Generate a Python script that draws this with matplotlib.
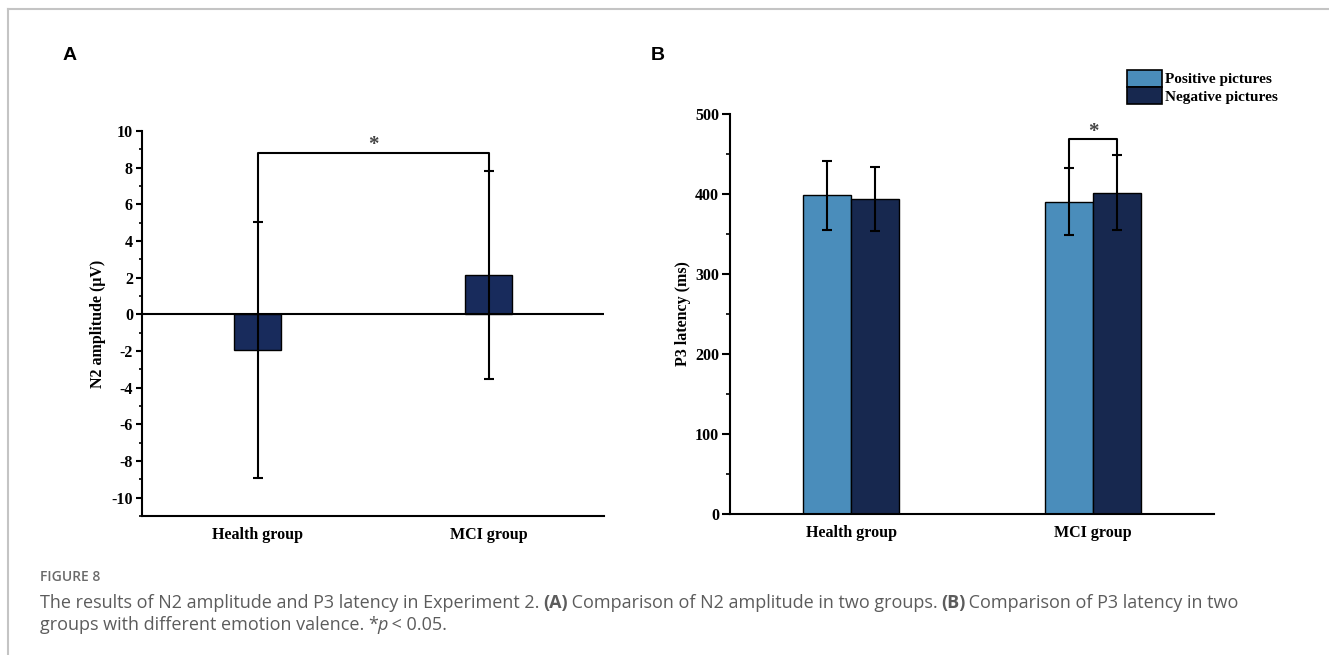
import matplotlib
matplotlib.use("Agg")
import matplotlib.pyplot as plt
from matplotlib.patches import Patch
from matplotlib.ticker import MultipleLocator
from matplotlib.lines import Line2D

plt.rcParams["axes.unicode_minus"] = False

# N2 amplitude (uV), mean and error
groups = ["Health group", "MCI group"]
n2_mean = [-1.93, 2.15]
n2_err = [6.97, 5.67]

# P3 latency (ms) by picture valence
p3_pos_mean = [398, 390]
p3_pos_err = [43, 42]
p3_neg_mean = [393, 401]
p3_neg_err = [40, 47]
valence_labels = ["Positive pictures", "Negative pictures"]

LIGHT = "#4a8dbb"
NAVY = "#17284f"
NAVY_A = "#182b5c"
SERIF = "Liberation Serif"

W, H = 1329, 655
fig = plt.figure(figsize=(W / 100, H / 100), dpi=100)


def px_box(left, top, right, bottom):
    return [left / W, 1 - bottom / H, (right - left) / W, (bottom - top) / H]


def style_axes(ax, major, minor, tick_len):
    for s in ("top", "right"):
        ax.spines[s].set_visible(False)
    for s in ("left", "bottom"):
        ax.spines[s].set_linewidth(1.5)
    ax.yaxis.set_major_locator(MultipleLocator(major))
    ax.yaxis.set_minor_locator(MultipleLocator(minor))
    ax.tick_params(axis="y", which="major", length=tick_len, width=1.5, pad=2,
                   labelsize=11.5)
    ax.tick_params(axis="y", which="minor", length=tick_len / 2, width=1.2)
    ax.tick_params(axis="x", length=0, pad=8, labelsize=11.5)
    for lab in ax.get_xticklabels() + ax.get_yticklabels():
        lab.set_fontfamily(SERIF)
        lab.set_fontweight("bold")


err_kw = dict(ecolor="black", elinewidth=1.5, capsize=3.5, capthick=1.5)

# ---- panel A
axA = fig.add_axes(px_box(142, 131, 604, 516))
x = [0, 1]
axA.bar(x, n2_mean, width=0.2, color=NAVY_A, edgecolor="black", linewidth=1,
        yerr=n2_err, error_kw=err_kw, zorder=2)
axA.axhline(0, color="black", lw=1.5, zorder=3)
axA.set_xlim(-0.5, 1.5)
axA.set_ylim(-11, 10)
axA.set_xticks(x)
axA.set_xticklabels(groups)
style_axes(axA, 2, 1, 4.5)
axA.set_ylabel("N2 amplitude (μV)", fontfamily=SERIF, fontweight="bold",
               fontsize=11.5, labelpad=4)

tops = [n2_mean[i] + n2_err[i] for i in range(2)]
yb = 8.8
axA.plot([0, 0, 1, 1], [tops[0], yb, yb, tops[1]], color="black", lw=1.5,
         clip_on=False, zorder=4)
axA.text(0.5, 9.25, "*", ha="center", va="center", fontsize=15,
         fontfamily=SERIF, fontweight="bold", color="#444444")

# ---- panel B
axB = fig.add_axes(px_box(730, 113.5, 1214, 514))
xp = [i - 0.1 for i in x]
xn = [i + 0.1 for i in x]
axB.bar(xp, p3_pos_mean, width=0.2, color=LIGHT, edgecolor="black",
        linewidth=1, yerr=p3_pos_err, error_kw=err_kw, zorder=2)
axB.bar(xn, p3_neg_mean, width=0.2, color=NAVY, edgecolor="black",
        linewidth=1, yerr=p3_neg_err, error_kw=err_kw, zorder=2)
axB.set_xlim(-0.5, 1.5)
axB.set_ylim(0, 500)
axB.set_xticks(x)
axB.set_xticklabels(groups)
style_axes(axB, 100, 50, 6)
axB.set_ylabel("P3 latency (ms)", fontfamily=SERIF, fontweight="bold",
               fontsize=11.5, labelpad=3)

yb = 468.6
axB.plot([xp[1], xp[1], xn[1], xn[1]],
         [p3_pos_mean[1] + p3_pos_err[1], yb, yb, p3_neg_mean[1] + p3_neg_err[1]],
         color="black", lw=1.5, clip_on=False, zorder=4)
axB.text(1, 477, "*", ha="center", va="center", fontsize=15,
         fontfamily=SERIF, fontweight="bold", color="#444444")

handles = [Patch(facecolor=LIGHT, edgecolor="black", linewidth=1.2),
           Patch(facecolor=NAVY, edgecolor="black", linewidth=1.2)]
fig.legend(handles, valence_labels, loc="upper left",
           bbox_to_anchor=(1127 / W, 1 - 70 / H), frameon=False,
           borderpad=0, borderaxespad=0, labelspacing=0.05,
           handlelength=2.3, handleheight=1.3, handletextpad=0.2,
           prop={"family": SERIF, "weight": "bold", "size": 11})

# panel letters
fig.text(70 / W, 1 - 55 / H, "A", ha="center", va="center", fontsize=14,
         fontweight="bold", fontfamily="Liberation Sans")
fig.text(658 / W, 1 - 55 / H, "B", ha="center", va="center", fontsize=14,
         fontweight="bold", fontfamily="Liberation Sans")

# outer frame lines
fig.add_artist(Line2D([8 / W, 1], [1 - 8.5 / H] * 2, color="#c4c4c4", lw=1.5))
fig.add_artist(Line2D([8 / W] * 2, [0, 1 - 8.5 / H], color="#c4c4c4", lw=1.5))

# caption
CAP = "#5c5c5c"
CAP_FONT = "Open Sans"
fig.text(40 / W, 1 - 577 / H, "FIGURE 8", ha="left", va="center",
         fontsize=10, fontweight="semibold", fontfamily=CAP_FONT, color="#6a6a6a")

renderer = fig.canvas.get_renderer()


def draw_runs(x0, y0, runs, size=13):
    xpos = x0
    for txt, weight, style in runs:
        t = fig.text(xpos / W, 1 - y0 / H, txt, ha="left", va="center",
                     fontsize=size, fontweight=weight, fontstyle=style,
                     fontfamily=CAP_FONT, color=CAP)
        xpos += t.get_window_extent(renderer).width - 1


draw_runs(40, 603, [
    ("The results of N2 amplitude and P3 latency in Experiment 2. ", "normal", "normal"),
    ("(A)", "bold", "normal"),
    (" Comparison of N2 amplitude in two groups. ", "normal", "normal"),
    ("(B)", "bold", "normal"),
    (" Comparison of P3 latency in two", "normal", "normal"),
])
draw_runs(40, 625, [
    ("groups with different emotion valence. *", "normal", "normal"),
    ("p", "normal", "italic"),
    (" < 0.05.", "normal", "normal"),
])

fig.savefig("out.png", dpi=100)
